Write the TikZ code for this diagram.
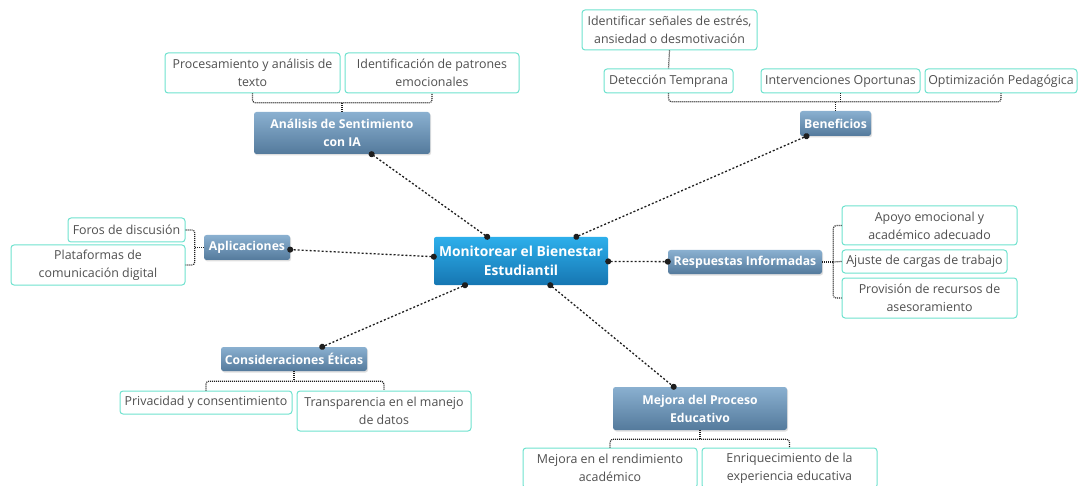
\documentclass[tikz,border=0pt]{standalone}
\usepackage{fontspec}
\setmainfont{Open Sans}
\usetikzlibrary{arrows.meta,calc,shadows}
\definecolor{leafborder}{RGB}{110,226,206}
\definecolor{leaftext}{RGB}{80,80,80}
\definecolor{subtop}{RGB}{138,176,208}
\definecolor{subbot}{RGB}{84,122,156}
\definecolor{maintop}{RGB}{45,175,235}
\definecolor{mainbot}{RGB}{22,118,178}
\definecolor{linec}{RGB}{30,30,30}
\tikzset{
  mainbox/.style={rectangle, rounded corners=2pt, top color=maintop, bottom color=mainbot, draw=none,
    text=white, font=\fontsize{13.8}{19}\selectfont\bfseries, align=center, inner sep=0pt},
  subbox/.style={rectangle, rounded corners=2.5pt, top color=subtop, bottom color=subbot, draw=none,
    text=white, font=\fontsize{12.2}{18}\selectfont\bfseries, align=center, inner sep=0pt,
    drop shadow={shadow xshift=1pt, shadow yshift=-1.5pt, opacity=0.25}},
  leaf/.style={rectangle, rounded corners=3pt, draw=leafborder, line width=1pt, fill=white,
    text=leaftext, font=\fontsize{12.4}{18}\selectfont, align=center, inner sep=0pt},
  conn/.style={linec, line width=1.3pt, dash pattern=on 2pt off 2pt,
    {Circle[length=6pt,sep=0pt]}-{Circle[length=6pt]}, shorten <=-3pt, shorten >=-3pt},
  brk/.style={linec, line width=1.2pt, dash pattern=on 1pt off 1pt, rounded corners=3pt},
}
\begin{document}
\begin{tikzpicture}[x=1pt,y=-1pt]
\useasboundingbox (0,0) rectangle (1078,486);
% main
\node[mainbox, minimum width=174pt, minimum height=48pt] (main) at (521,261) {Monitorear el Bienestar\\Estudiantil};
% subtopics
\node[subbox, minimum width=176pt, minimum height=42pt] (ana) at (342,133) {Análisis de Sentimiento\\con IA};
\node[subbox, minimum width=71pt, minimum height=25pt] (ben) at (835.5,123.5) {Beneficios};
\node[subbox, minimum width=86pt, minimum height=25pt] (apl) at (247,247.5) {Aplicaciones};
\node[subbox, minimum width=154pt, minimum height=24pt] (res) at (745,262) {Respuestas Informadas};
\node[subbox, minimum width=146pt, minimum height=24pt] (con) at (294,359) {Consideraciones Éticas};
\node[subbox, minimum width=174pt, minimum height=43pt] (mej) at (700,408.5) {Mejora del Proceso\\Educativo};
% leaves
\node[leaf, minimum width=175pt, minimum height=40pt] (p1) at (252.5,73) {Procesamiento y análisis de\\texto};
\node[leaf, minimum width=174pt, minimum height=40pt] (p2) at (432,73) {Identificación de patrones\\emocionales};
\node[leaf, minimum width=175pt, minimum height=40pt] (b0) at (669.5,30) {Identificar señales de estrés,\\ansiedad o desmotivación};
\node[leaf, minimum width=129pt, minimum height=24pt] (b1) at (668.5,81) {Detección Temprana};
\node[leaf, minimum width=159pt, minimum height=24pt] (b2) at (840.5,81) {Intervenciones Oportunas};
\node[leaf, minimum width=152pt, minimum height=24pt] (b3) at (1001,81) {Optimización Pedagógica};
\node[leaf, minimum width=117pt, minimum height=24pt] (a1) at (126.5,230) {Foros de discusión};
\node[leaf, minimum width=174pt, minimum height=40pt] (a2) at (98,265) {Plataformas de\\comunicación digital};
\node[leaf, minimum width=175pt, minimum height=39pt] (r1) at (929.5,225.5) {Apoyo emocional y\\académico adecuado};
\node[leaf, minimum width=165pt, minimum height=23pt] (r2) at (924.5,261.5) {Ajuste de cargas de trabajo};
\node[leaf, minimum width=175pt, minimum height=40pt] (r3) at (929.5,298) {Provisión de recursos de\\asesoramiento};
\node[leaf, minimum width=172pt, minimum height=23pt] (c1) at (206,402.5) {Privacidad y consentimiento};
\node[leaf, minimum width=174pt, minimum height=40pt] (c2) at (384,411) {Transparencia en el manejo\\de datos};
\node[leaf, minimum width=174pt, minimum height=40pt] (m1) at (610,468) {Mejora en el rendimiento\\académico};
\node[leaf, minimum width=175pt, minimum height=40pt] (m2) at (789.5,468) {Enriquecimiento de la\\experiencia educativa};
% main connectors
\draw[conn] (main) -- (ana);
\draw[conn] (main) -- (ben);
\draw[conn] (main) -- (apl);
\draw[conn] (main) -- (res);
\draw[conn] (main) -- (con);
\draw[conn] (main) -- (mej);
% brackets
\coordinate (anaj) at ($(ana.north)+(0,-9)$);
\draw[brk] (p1.south) |- (anaj) -| (p2.south);
\draw[brk] (ana.north) -- (anaj);
\coordinate (benj) at ($(ben.north)+(0,-9)$);
\draw[brk] (b1.south) |- (benj) -| (b3.south);
\draw[brk] (b2.south) -- (b2.south |- benj);
\draw[brk] (ben.north) -- (benj);
\draw[brk] (b0.south) -- (b1.north);
\coordinate (aplj) at ($(apl.west)+(-9,0)$);
\draw[brk] (a1.east) -| (aplj) |- (a2.east);
\draw[brk] (apl.west) -- (aplj);
\coordinate (resj) at ($(res.east)+(11,0)$);
\draw[brk] (r1.west) -| (resj) |- (r3.west);
\draw[brk] (r2.west) -- (resj);
\draw[brk] (res.east) -- (resj);
\coordinate (conj) at ($(con.south)+(0,10)$);
\draw[brk] (c1.north) |- (conj) -| (c2.north);
\draw[brk] (con.south) -- (conj);
\coordinate (mejj) at ($(mej.south)+(0,9)$);
\draw[brk] (m1.north) |- (mejj) -| (m2.north);
\draw[brk] (mej.south) -- (mejj);
\end{tikzpicture}
\end{document}
